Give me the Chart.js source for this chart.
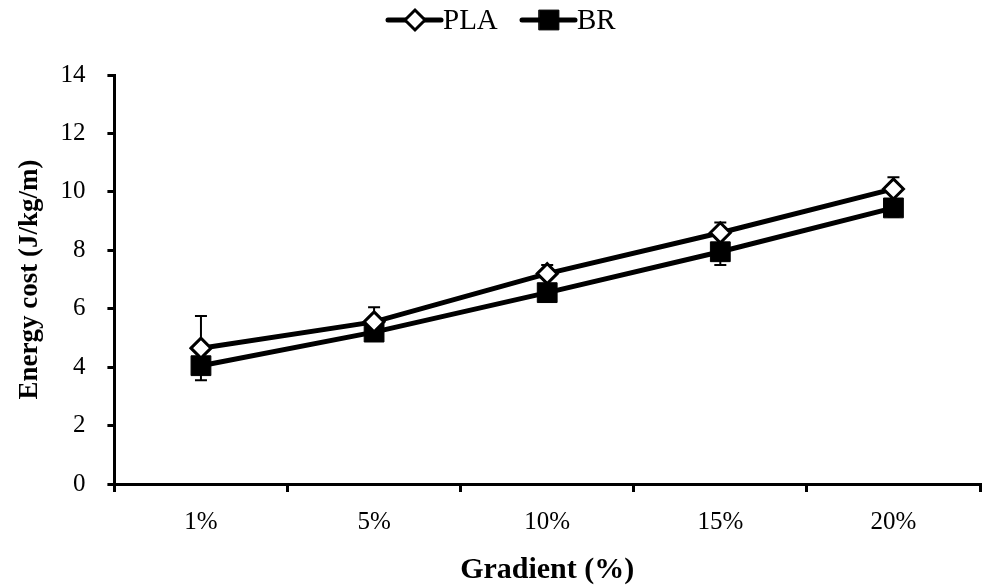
<!DOCTYPE html>
<html>
<head>
<meta charset="utf-8">
<script src="https://cdn.jsdelivr.net/npm/chart.js@4/dist/chart.umd.min.js"></script>
<style>
  html, body { margin: 0; padding: 0; background: #fff; overflow: hidden; }
  #wrap { width: 995px; height: 587px; position: relative; }
</style>
</head>
<body>
<div id="wrap"><canvas id="energyChart"></canvas></div>
<script>
// Energy cost vs gradient, PLA vs BR (mean + SD)
const gradients = ['1%', '5%', '10%', '15%', '20%'];
const plaMean = [4.65, 5.55, 7.2, 8.6, 10.1];
const plaSD = [1.1, 0.5, 0.3, 0.35, 0.4];
const brMean = [4.05, 5.2, 6.55, 7.95, 9.45];
const brSD = [0.5, 0.3, 0.3, 0.45, 0.3];

const fontFamily = '"Liberation Serif", "Times New Roman", serif';

// draws SD whiskers: PLA upwards, BR downwards, under the markers
const errorBars = {
    id: 'errorBars',
    beforeDatasetsDraw(chart) {
        const ctx = chart.ctx;
        const y = chart.scales.y;
        const sets = [
            { idx: 0, mean: plaMean, sd: plaSD, dir: 1 },
            { idx: 1, mean: brMean, sd: brSD, dir: -1 }
        ];
        ctx.save();
        ctx.strokeStyle = '#000';
        ctx.lineWidth = 2;
        sets.forEach(s => {
            chart.getDatasetMeta(s.idx).data.forEach((pt, i) => {
                const y0 = y.getPixelForValue(s.mean[i]);
                const y1 = y.getPixelForValue(s.mean[i] + s.dir * s.sd[i]);
                ctx.beginPath();
                ctx.moveTo(pt.x, y0);
                ctx.lineTo(pt.x, y1);
                ctx.moveTo(pt.x - 6, y1);
                ctx.lineTo(pt.x + 6, y1);
                ctx.stroke();
            });
        });
        ctx.restore();
    }
};

// legend with line + marker like the original figure
const lineLegend = {
    id: 'lineLegend',
    afterDraw(chart) {
        const ctx = chart.ctx;
        const cy = 20;
        const items = [
            { x: 388, text: 'PLA', style: 'rectRot', fill: '#fff', r: 10, bw: 3 },
            { x: 522, text: 'BR', style: 'rect', fill: '#000', r: 14, bw: 1 }
        ];
        ctx.save();
        ctx.font = '29px ' + fontFamily;
        ctx.textBaseline = 'middle';
        items.forEach(it => {
            ctx.strokeStyle = '#000';
            ctx.lineWidth = 5;
            ctx.lineCap = 'round';
            ctx.beginPath();
            ctx.moveTo(it.x, cy);
            ctx.lineTo(it.x + 53, cy);
            ctx.stroke();
            ctx.lineWidth = it.bw;
            ctx.fillStyle = it.fill;
            Chart.helpers.drawPoint(ctx, { pointStyle: it.style, radius: it.r, borderWidth: it.bw }, it.x + 27, cy);
            ctx.fillStyle = '#000';
            ctx.fillText(it.text, it.x + 55, cy + 1);
        });
        ctx.restore();
    }
};

new Chart(document.getElementById('energyChart'), {
    type: 'line',
    data: {
        labels: gradients,
        datasets: [
            {
                label: 'PLA',
                data: plaMean,
                borderColor: '#000',
                borderWidth: 5,
                pointStyle: 'rectRot',
                pointRadius: 10,
                pointBorderWidth: 3,
                pointBackgroundColor: '#fff',
                pointBorderColor: '#000',
                tension: 0
            },
            {
                label: 'BR',
                data: brMean,
                borderColor: '#000',
                borderWidth: 5,
                pointStyle: 'rect',
                pointRadius: 14,
                pointBorderWidth: 1,
                pointBackgroundColor: '#000',
                pointBorderColor: '#000',
                tension: 0
            }
        ]
    },
    options: {
        responsive: true,
        maintainAspectRatio: false,
        animation: false,
        layout: { padding: { top: 75, right: 0, left: 14, bottom: -1 } },
        plugins: {
            legend: { display: false },
            tooltip: { enabled: false }
        },
        scales: {
            x: {
                offset: true,
                grid: {
                    offset: true,
                    drawOnChartArea: false,
                    drawTicks: true,
                    tickLength: 8,
                    color: '#000',
                    lineWidth: 3
                },
                border: { color: '#000', width: 3 },
                ticks: { color: '#000', font: { family: fontFamily, size: 25 }, padding: 15 },
                title: {
                    display: true,
                    text: 'Gradient (%)',
                    color: '#000',
                    font: { family: fontFamily, size: 30, weight: 'bold' },
                    padding: { top: 0, bottom: 0 }
                }
            },
            y: {
                min: 0,
                max: 14,
                ticks: {
                    stepSize: 2,
                    color: '#000',
                    font: { family: fontFamily, size: 25 },
                    padding: 22
                },
                grid: {
                    drawOnChartArea: false,
                    drawTicks: true,
                    tickLength: 7,
                    color: '#000',
                    lineWidth: 3
                },
                border: { color: '#000', width: 3 },
                title: {
                    display: true,
                    text: 'Energy cost (J/kg/m)',
                    color: '#000',
                    font: { family: fontFamily, size: 27, weight: 'bold' },
                    padding: { top: 0, bottom: -8 }
                }
            }
        }
    },
    plugins: [errorBars, lineLegend]
});
</script>
</body>
</html>
